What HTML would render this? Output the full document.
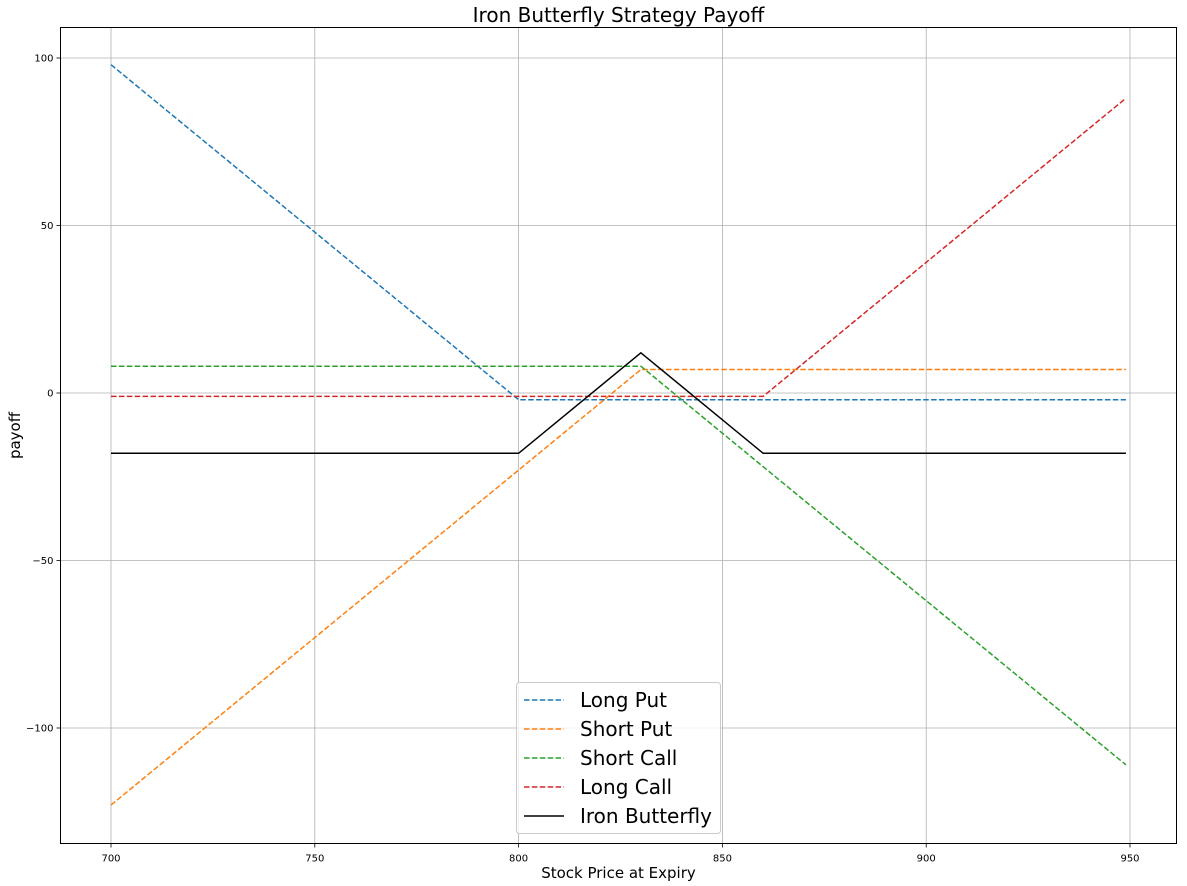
<!DOCTYPE html>
<html><head><meta charset="utf-8"><style>
body{margin:0;background:#fff;}
svg{display:block;font-family:"DejaVu Sans","Liberation Sans",sans-serif;}
</style></head><body>
<svg id="chart" width="1187" height="886" xmlns="http://www.w3.org/2000/svg"></svg>
<script>
const xs = [700, 800, 830, 860, 949];
const longPut = [98, -2, -2, -2, -2];
const shortPut = [-123, -23, 7, 7, 7];
const shortCall = [8, 8, 8, -22, -111];
const longCall = [-1, -1, -1, -1, 88];
const ironButterfly = [-18, -18, 12, -18, -18];
const xTicks = [700, 750, 800, 850, 900, 950];
const yTicks = [100, 50, 0, -50, -100];
const yTickLabels = ["100", "50", "0", "\u221250", "\u2212100"];
const seriesNames = ["Long Put", "Short Put", "Short Call", "Long Call", "Iron Butterfly"];

const L=60.5,R=1176.5,T=27.5,B=843.5;
const X=v=>111+(v-700)*(1130-111)/250;
const Y=v=>393-v*(393-58)/100;
const svg=document.getElementById('chart');
const NS='http://www.w3.org/2000/svg';
function el(t,a,txt){const e=document.createElementNS(NS,t);for(const k in a)e.setAttribute(k,a[k]);if(txt!=null)e.textContent=txt;svg.appendChild(e);return e;}

xTicks.forEach(t=>{
  const g=el('line',{x1:X(t),x2:X(t),y1:T,y2:B,stroke:'#b0b0b0','stroke-width':0.8});
  
  
  el('line',{x1:X(t),x2:X(t),y1:B,y2:B+4,stroke:'#000','stroke-width':0.8});
  const lb=el('text',{x:X(t),y:B+18,'font-size':10,'text-anchor':'middle'},String(t));
  
  
});
yTicks.forEach((t,i)=>{
  const g=el('line',{x1:L,x2:R,y1:Y(t),y2:Y(t),stroke:'#b0b0b0','stroke-width':0.8});
  
  
  el('line',{x1:L-4,x2:L,y1:Y(t),y2:Y(t),stroke:'#000','stroke-width':0.8});
  const lb=el('text',{x:L-7,y:Y(t)+3.5,'font-size':10,'text-anchor':'end'},yTickLabels[i]);
  
  
});

const colors=['#1f77b4','#ff7f0e','#2ca02c','#d62728','#000'];
const data=[longPut,shortPut,shortCall,longCall,ironButterfly];
data.forEach((d,i)=>{
  const p=el('polyline',{points:xs.map((x,j)=>X(x)+','+Y(d[j])).join(' '),fill:'none',stroke:colors[i],'stroke-width':1.5,'stroke-dasharray':i<4?'5.5,2.4':'none'});
  
  
});

const fr=el('rect',{x:L,y:T,width:R-L,height:B-T,fill:'none',stroke:'#000','stroke-width':1});



const tt=el('text',{x:(L+R)/2,y:22,'font-size':20,'text-anchor':'middle'},'Iron Butterfly Strategy Payoff');


const xt=el('text',{x:(L+R)/2,y:878,'font-size':15,'text-anchor':'middle'},'Stock Price at Expiry');


const yt=el('text',{x:20,y:(T+B)/2,'font-size':15,'text-anchor':'middle',transform:`rotate(-90 20 ${(T+B)/2})`},'payoff');



const lg=el('rect',{x:516.5,y:682.5,width:204,height:151,rx:3,fill:'#fff','fill-opacity':0.8,stroke:'#ccc'});


seriesNames.forEach((n,i)=>{
  const y=700+i*29;
  el('line',{x1:524,x2:564,y1:y,y2:y,stroke:colors[i],'stroke-width':1.5,'stroke-dasharray':i<4?'5.5,2.4':'none'});
  const t=el('text',{x:580,y:y+7,'font-size':20},n);
  
  
});
</script>
</body></html>
